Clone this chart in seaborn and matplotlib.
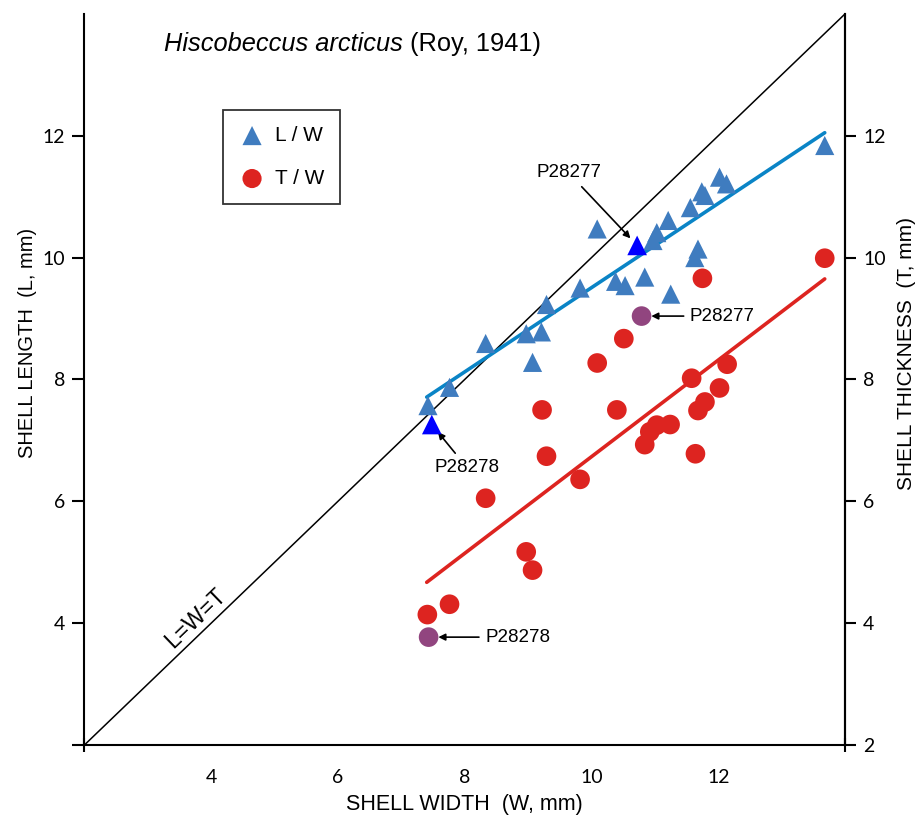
import matplotlib
matplotlib.use("Agg")
import matplotlib.pyplot as plt
import seaborn as sns
import numpy as np
import pandas as pd

# ---- data ----
# L / W (shell length vs shell width)
lw_width = [7.42, 7.76, 8.33, 8.97, 9.07, 9.21, 9.29, 9.82, 10.09, 10.38, 10.53, 10.84,
            10.97, 11.03, 11.21, 11.25, 11.56, 11.63, 11.68, 11.74, 11.79, 12.02, 12.13, 13.68]
lw_length = [7.57, 7.87, 8.59, 8.75, 8.28, 8.78, 9.23, 9.50, 10.47, 9.61, 9.54, 9.68,
             10.28, 10.41, 10.61, 9.40, 10.82, 10.00, 10.14, 11.08, 11.02, 11.32, 11.21, 11.84]
# T / W (shell thickness vs shell width)
tw_width = [7.41, 7.76, 8.33, 8.97, 9.07, 9.22, 9.29, 9.82, 10.09, 10.40, 10.51, 10.84,
            10.92, 11.03, 11.24, 11.58, 11.64, 11.68, 11.75, 11.79, 12.02, 12.14, 13.68]
tw_thick = [4.14, 4.31, 6.05, 5.17, 4.87, 7.50, 6.74, 6.36, 8.27, 7.50, 8.67, 6.93,
            7.14, 7.25, 7.26, 8.02, 6.78, 7.49, 9.66, 7.63, 7.86, 8.25, 9.99]
# highlighted specimens
spec_names = ["P28278", "P28277"]
spec_width_L = [7.48, 10.72]
spec_length = [7.26, 10.20]
spec_width_T = [7.43, 10.79]
spec_thick = [3.77, 9.04]
# regression lines (end points)
fit_width = [7.40, 13.68]
fit_L = [7.71, 12.05]
fit_T = [4.67, 9.65]
# identity line
ident = [2, 14]
x_ticks = [4, 6, 8, 10, 12]
y_ticks_left = [2, 4, 6, 8, 10, 12]
y_ticks_right = [2, 4, 6, 8, 10, 12]

sns.set_theme(style="white")
plt.rcParams['font.family'] = ['Liberation Sans', 'DejaVu Sans']
plt.rcParams['text.color'] = 'black'
plt.rcParams['axes.labelcolor'] = 'black'
plt.rcParams['xtick.color'] = 'black'
plt.rcParams['ytick.color'] = 'black'

TRI = "#3F7CBF"
RED = "#DD2420"
LINEBLUE = "#0A84C6"
PURPLE = "#91457F"
TICKFONT = ["Lato", "DejaVu Sans"]

fig = plt.figure(figsize=(9.21, 8.19), dpi=100)
ax = fig.add_axes([0.0917, 0.0904, 0.8258, 0.8926])

df_l = pd.DataFrame({"W": lw_width, "V": lw_length})
df_t = pd.DataFrame({"W": tw_width, "V": tw_thick})

# identity line
sns.lineplot(x=ident, y=ident, ax=ax, color="black", lw=1.1, zorder=1)
# fit lines
sns.lineplot(x=fit_width, y=fit_L, ax=ax, color=LINEBLUE, lw=2.6, zorder=2)
sns.lineplot(x=fit_width, y=fit_T, ax=ax, color=RED, lw=2.6, zorder=2)

sns.scatterplot(data=df_l, x="W", y="V", ax=ax, marker="^", s=190, color=TRI,
                edgecolor="none", zorder=3, label="L / W")
sns.scatterplot(data=df_t, x="W", y="V", ax=ax, marker="o", s=200, color=RED,
                edgecolor="none", zorder=3, label="T / W")
sns.scatterplot(x=spec_width_L, y=spec_length, ax=ax, marker="^", s=200, color="#0000FF",
                edgecolor="none", zorder=4)
sns.scatterplot(x=spec_width_T, y=spec_thick, ax=ax, marker="o", s=200, color=PURPLE,
                edgecolor="none", zorder=4)

ax.set_xlim(2, 14)
ax.set_ylim(2, 14)

# annotations
arrow = dict(arrowstyle="-|>", color="black", lw=1.2, mutation_scale=10, shrinkA=2, shrinkB=7)
AF = 13.5
ax.annotate(spec_names[1], xy=(spec_width_L[1], spec_length[1]), xytext=(9.64, 11.25),
            ha="center", va="bottom", fontsize=AF, arrowprops=arrow)
ax.annotate(spec_names[0], xy=(spec_width_L[0], spec_length[0]), xytext=(8.03, 6.7),
            ha="center", va="top", fontsize=AF, arrowprops=arrow)
ax.annotate(spec_names[1], xy=(spec_width_T[1], spec_thick[1]), xytext=(11.55, spec_thick[1]),
            ha="left", va="center", fontsize=AF, arrowprops=arrow)
ax.annotate(spec_names[0], xy=(spec_width_T[0], spec_thick[0]), xytext=(8.32, spec_thick[0]),
            ha="left", va="center", fontsize=AF, arrowprops=arrow)

ax.text(3.76, 4.08, "L=W=T", rotation=44, fontsize=16.5, ha="center", va="center",
        rotation_mode="anchor")

# title
t1 = ax.text(3.25, 13.5, "Hiscobeccus arcticus", fontsize=18.3, style="italic",
             ha="left", va="center")
ax.annotate(" (Roy, 1941)", xy=(1, 0.5), xycoords=t1, fontsize=18.3, ha="left", va="center")

# legend
leg = ax.legend(loc="upper left", bbox_to_anchor=(0.182, 0.868), borderaxespad=0,
                frameon=True, fontsize=15, handletextpad=0.45, borderpad=0.75,
                labelspacing=1.15, handlelength=1.3, fancybox=False, edgecolor="black")
leg.get_frame().set_linewidth(1.3)
for h in leg.legend_handles:
    h.set_sizes([190])

# spines and ticks
ax.spines["top"].set_visible(False)
for s in ["left", "bottom", "right"]:
    ax.spines[s].set_color("black")
    ax.spines[s].set_linewidth(1.5)

ax.set_xticks(x_ticks)
ax.set_xticks([2, 14], minor=True)
ax.tick_params(axis="x", which="major", length=0, pad=17, labelsize=14)
ax.tick_params(axis="x", which="minor", length=10, width=1.5, direction="inout", color="black",
               bottom=True)
ax.set_yticks(y_ticks_left)
ax.set_yticklabels(["" if v == 2 else str(v) for v in y_ticks_left])
ax.tick_params(axis="y", which="major", length=9, width=1.5, direction="out", color="black",
               left=True, pad=5, labelsize=14)
for lab in ax.get_xticklabels() + ax.get_yticklabels():
    lab.set_family(TICKFONT)

ax2 = ax.twinx()
ax2.set_ylim(2, 14)
ax2.set_yticks(y_ticks_right)
ax2.set_yticklabels([str(v) for v in y_ticks_right])
ax2.tick_params(axis="y", length=8, width=1.5, direction="out", color="black", right=True,
                pad=5, labelsize=14)
for lab in ax2.get_yticklabels():
    lab.set_family(TICKFONT)
for s in ["top", "left", "bottom"]:
    ax2.spines[s].set_visible(False)
ax2.spines["right"].set_linewidth(1.5)
ax2.spines["right"].set_color("black")
ax2.grid(False)

ax.set_xlabel("SHELL WIDTH  (W, mm)", fontsize=15.5)
ax.xaxis.set_label_coords(0.5, -0.067)
ax.set_ylabel("SHELL LENGTH  (L, mm)", fontsize=14.5)
ax.yaxis.set_label_coords(-0.063, 0.55)
ax2.set_ylabel("SHELL THICKNESS  (T, mm)", fontsize=15)
ax2.yaxis.set_label_coords(1.068, 0.535)

fig.savefig("out.png", dpi=100)
